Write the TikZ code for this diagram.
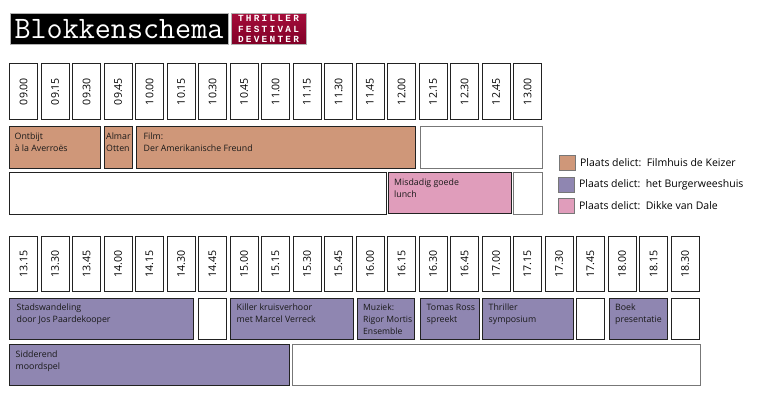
\documentclass[tikz,border=0pt]{standalone}
\usepackage{fontspec}
\setmainfont{Open Sans}
\setmonofont{Latin Modern Mono}
\newfontfamily\festfont[LetterSpace=24]{Liberation Mono}
\usetikzlibrary{positioning}
\definecolor{filmkleur}{HTML}{CF9779}
\definecolor{burgerkleur}{HTML}{8F86B1}
\definecolor{dikkekleur}{HTML}{E09DBB}
\definecolor{festrood}{HTML}{A00030}
\definecolor{rand}{HTML}{222222}
\definecolor{grijsrand}{HTML}{777777}
\tikzset{
  timebox/.style={draw=rand, line width=0.9pt, fill=white, rotate=90, outer sep=0pt, minimum width=55.5pt, minimum height=28pt, inner sep=0pt, font=\fontsize{10.6}{11}\selectfont},
  slotbox/.style={draw=rand, line width=0.9pt, anchor=north west, outer sep=0pt, inner sep=0pt},
  leeg/.style={slotbox, fill=white},
  film/.style={slotbox, fill=filmkleur},
  burger/.style={slotbox, fill=burgerkleur},
  dikke/.style={slotbox, fill=dikkekleur},
  slottext/.style={inner sep=0pt, align=left, text=black!90, font=\fontsize{8.8}{12}\selectfont},
  swatch/.style={draw=grijsrand, line width=0.9pt, minimum width=16pt, minimum height=15pt, inner sep=0pt},
  legendtext/.style={inner sep=0pt, font=\fontsize{10.5}{12}\selectfont},
}
\begin{document}
\begin{tikzpicture}[x=1pt, y=-1pt]
  \useasboundingbox (0,0) rectangle (757,401);

  % titel
  \node[fill=black, draw=black!30, line width=0.6pt, text=white, minimum width=218pt, minimum height=31pt, inner sep=0pt, font=\ttfamily\bfseries\fontsize{31.2}{27}\selectfont] (titel) at (119,29) {Blokkenschema};
  \node[top color=festrood!95!white, bottom color=festrood!80!black, draw=black!30, line width=0.6pt, text=white, minimum width=75pt, minimum height=31pt, inner sep=0pt, align=center, font=\festfont\bfseries\fontsize{9.4}{10.6}\selectfont] (festival) at (268.5,29) {THRILLER\\FESTIVAL\\DEVENTER};

  % ochtend
  \foreach \t [count=\i from 0] in {09.00,09.15,09.30,09.45,10.00,10.15,10.30,10.45,11.00,11.15,11.30,11.45,12.00,12.15,12.30,12.45,13.00}
    \node[timebox] (am\i) at ({23.5+31.5*\i},91.5) {\t};

  \node[film, minimum width=91pt, minimum height=42pt] (ontbijt) at (9.5,126.5) {};
  \node[film, minimum width=28pt, minimum height=42pt] (almar) at (104,126.5) {};
  \node[film, minimum width=279pt, minimum height=42pt] (filmbox) at (136.5,126.5) {};
  \node[leeg, draw=grijsrand, minimum width=122pt, minimum height=42pt] (leeg1) at (420.5,126.5) {};
  \node[leeg, minimum width=377pt, minimum height=42pt] (leeg2) at (9.5,172) {};
  \node[dikke, minimum width=123pt, minimum height=41.5pt] (lunch) at (388,172) {};
  \node[leeg, draw=grijsrand, minimum width=28.5pt, minimum height=42pt] (leeg3) at (513.5,172) {};

  \node[slottext, below right=6.5pt and 5pt of ontbijt.north west, anchor=north west] (ontbijttxt) {Ontbijt\\à la Averroës};
  \node[slottext, below right=6.5pt and 2pt of almar.north west, anchor=north west] (almartxt) {Almar\\Otten};
  \node[slottext, below right=6.5pt and 7pt of filmbox.north west, anchor=north west] (filmtxt) {Film:\\Der Amerikanische Freund};
  \node[slottext, below right=6.5pt and 6pt of lunch.north west, anchor=north west] (lunchtxt) {Misdadig goede\\lunch};

  % legenda
  \node[swatch, fill=filmkleur] (legfilm) at (567,162.5) {};
  \node[swatch, fill=burgerkleur] (legburger) at (566,184.5) {};
  \node[swatch, fill=dikkekleur] (legdikke) at (566,206) {};
  \node[legendtext, right=4.5pt of legfilm] (legfilmtxt) {Plaats delict:\, Filmhuis de Keizer};
  \node[legendtext, right=4.5pt of legburger] (legburgertxt) {Plaats delict:\, het Burgerweeshuis};
  \node[legendtext, right=4.5pt of legdikke] (legdikketxt) {Plaats delict:\, Dikke van Dale};

  % middag
  \foreach \t [count=\i from 0] in {13.15,13.30,13.45,14.00,14.15,14.30,14.45,15.00,15.15,15.30,15.45,16.00,16.15,16.30,16.45,17.00,17.15,17.30,17.45,18.00,18.15,18.30}
    \node[timebox] (pm\i) at ({23.5+31.5*\i},264) {\t};

  \node[burger, minimum width=184pt, minimum height=41pt] (stads) at (9.5,298) {};
  \node[leeg, minimum width=27.5pt, minimum height=41pt] (leeg4) at (198.5,298) {};
  \node[burger, minimum width=122.5pt, minimum height=41pt] (killer) at (230.5,298) {};
  \node[burger, minimum width=57.5pt, minimum height=41pt] (muziek) at (357,298) {};
  \node[burger, minimum width=58.5pt, minimum height=41pt] (tomas) at (420.5,298) {};
  \node[burger, minimum width=90.5pt, minimum height=41pt] (thriller) at (482.5,298) {};
  \node[leeg, minimum width=28pt, minimum height=41pt] (leeg5) at (576,298) {};
  \node[burger, minimum width=58pt, minimum height=41pt] (boek) at (609,298) {};
  \node[leeg, minimum width=28pt, minimum height=41pt] (leeg6) at (671.5,298) {};
  \node[burger, minimum width=279.5pt, minimum height=41pt] (sidder) at (9.5,344.5) {};
  \node[leeg, draw=grijsrand, minimum width=408pt, minimum height=41pt] (leeg7) at (292,344.5) {};

  \node[slottext, below right=6pt and 7pt of stads.north west, anchor=north west] (stadstxt) {Stadswandeling\\door Jos Paardekooper};
  \node[slottext, below right=6pt and 6pt of killer.north west, anchor=north west] (killertxt) {Killer kruisverhoor\\met Marcel Verreck};
  \node[slottext, below right=6pt and 6pt of muziek.north west, anchor=north west, font=\fontsize{8.6}{12}\selectfont] (muziektxt) {Muziek:\\Rigor Mortis\\Ensemble};
  \node[slottext, below right=6pt and 6pt of tomas.north west, anchor=north west] (tomastxt) {Tomas Ross\\spreekt};
  \node[slottext, below right=6pt and 6pt of thriller.north west, anchor=north west] (thrillertxt) {Thriller\\symposium};
  \node[slottext, below right=6pt and 6pt of boek.north west, anchor=north west] (boektxt) {Boek\\presentatie};
  \node[slottext, below right=6pt and 6pt of sidder.north west, anchor=north west] (siddertxt) {Sidderend\\moordspel};
\end{tikzpicture}
\end{document}
